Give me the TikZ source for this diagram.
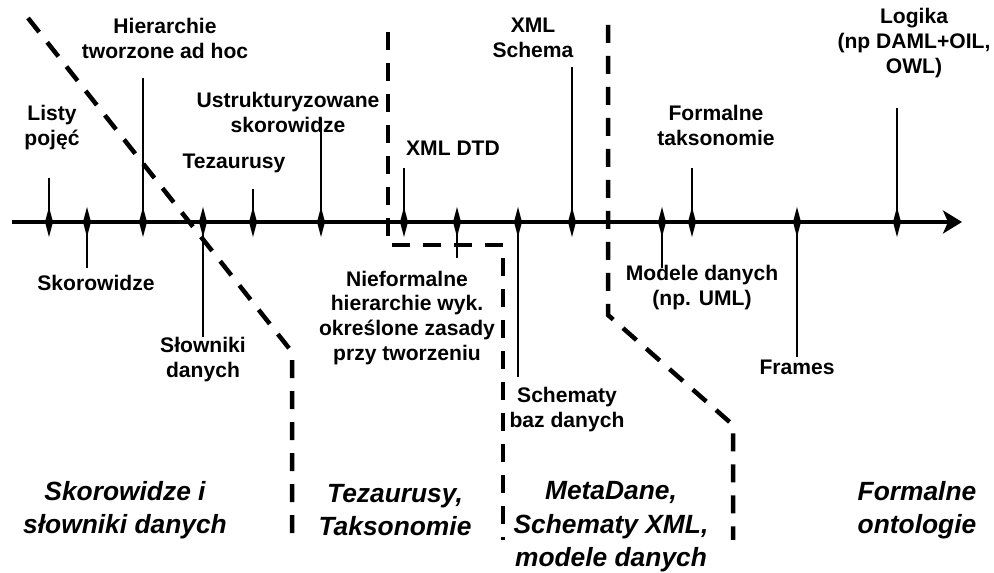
\documentclass[tikz,border=0pt]{standalone}
\usepackage{fontspec}
\setmainfont{Liberation Sans}
\usetikzlibrary{arrows.meta}

\begin{document}
\begin{tikzpicture}[x=0.02cm,y=-0.02cm,
  lbl/.style={align=center,font=\bfseries\fontsize{12}{14.2}\selectfont},
  area/.style={align=center,font=\bfseries\itshape\fontsize{15}{19}\selectfont},
  stem/.style={line width=0.6pt},
  axis/.style={line width=0.08cm,-{Stealth[length=0.38cm,width=0.46cm,inset=0.1cm]}},
  border/.style={line width=0.09cm,dash pattern=on 0.36cm off 0.26cm}]
\useasboundingbox (0,0) rectangle (994,573);
% era borders
\draw[border] (28,18) -- (292,352) -- (292,538);
\draw[border] (388,32) -- (388,245) -- (503,245) -- (503,540);
\draw[border] (608,25) -- (608,315) -- (733,425) -- (733,540);
% time axis
\coordinate (a0) at (12,222); \coordinate (a1) at (962,222);
\draw[axis] (a0) -- (a1);
\foreach \n/\x/\y in {listy/49/178, skor/87/268, hier/143/78, slow/203/337, tez/253/189,
    ustr/321/118, dtd/404/168, nief/457/258, baz/518/377, xsd/572/67, uml/662/268,
    takso/692/168, frames/797/357, logika/897/108} {
  \coordinate (t-\n) at (\x,222);
  \coordinate (e-\n) at (\x,\y);
  \draw[stem] (t-\n) -- (e-\n);
  \fill (t-\n) +(0,-15) -- +(4,0) -- +(0,15) -- +(-4,0) -- cycle;
}
% labels above
\node[lbl] (l-listy) at (52,128) {Listy\\pojęć};
\node[lbl] (l-hier) at (165,38) {Hierarchie\\tworzone ad hoc};
\node[lbl] (l-tez) at (234,163) {Tezaurusy};
\node[lbl] (l-ustr) at (288,112) {Ustrukturyzowane\\skorowidze};
\node[lbl] (l-dtd) at (453,148) {XML DTD};
\node[lbl] (l-xsd) at (533,38) {XML\\Schema};
\node[lbl] (l-takso) at (716,125) {Formalne\\taksonomie};
\node[lbl] (l-logika) at (914,43) {Logika\\(np DAML+OIL,\\OWL)};
% labels below
\node[lbl] (l-skor) at (96,283) {Skorowidze};
\node[lbl] (l-slow) at (203,360) {Słowniki\\danych};
\node[lbl] (l-nief) at (407,318) {Nieformalne\\hierarchie wyk.\\określone zasady\\przy tworzeniu};
\node[lbl] (l-baz) at (567,410) {Schematy\\baz danych};
\node[lbl] (l-uml) at (702,288) {Modele danych\\(np. UML)};
\node[lbl] (l-frames) at (797,367) {Frames};
% eras
\node[area] (era1) at (125,510) {Skorowidze i\\słowniki danych};
\node[area] (era2) at (395,510) {Tezaurusy,\\Taksonomie};
\node[area] (era3) at (611,527) {MetaDane,\\Schematy XML,\\modele danych};
\node[area] (era4) at (917,510) {Formalne\\ontologie};
\end{tikzpicture}
\end{document}
